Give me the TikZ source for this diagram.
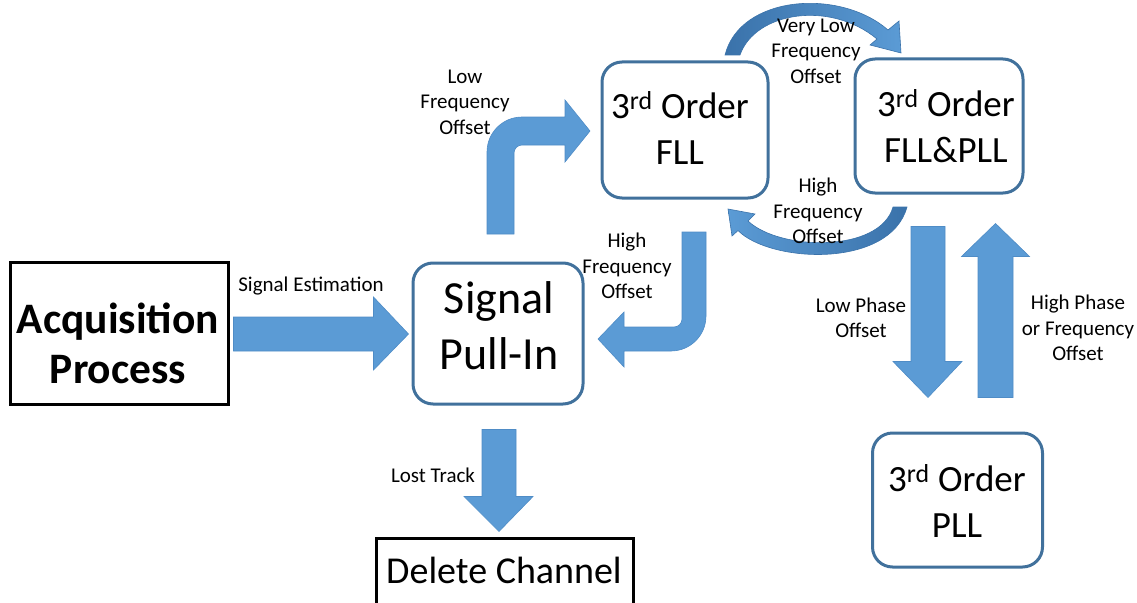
\documentclass[tikz,border=0pt]{standalone}
\usepackage{fontspec}
\setmainfont{Carlito}
\usetikzlibrary{calc}
\definecolor{boxblue}{HTML}{41719C}
\definecolor{arrfill}{HTML}{5B9BD5}
\definecolor{arredge}{HTML}{4F8CC6}
\definecolor{arrdark}{HTML}{3A72AA}
\begin{document}
\begin{tikzpicture}[x=1pt,y=-1pt,
  rbox/.style={draw=boxblue, line width=3pt, rounded corners=20pt, fill=white, inner sep=0pt},
  kbox/.style={draw=black, line width=3pt, fill=white, inner sep=0pt},
  blk/.style={fill=arrfill, draw=arredge, line width=0.6pt, line join=miter},
  lbl/.style={font=\fontsize{21}{25.5}\selectfont, align=center, inner sep=0pt},
  bigtxt/.style={font=\fontsize{37}{46}\selectfont, align=center, inner sep=0pt}]
\useasboundingbox (0,0) rectangle (1137,602);

% boxes
\node[kbox, minimum width=218, minimum height=142] (acq) at (119,333) {};
\node[rbox, minimum width=170, minimum height=141] (pull) at (498,333.5) {};
\node[rbox, minimum width=166, minimum height=136] (fll) at (685,130) {};
\node[rbox, minimum width=168, minimum height=134] (fllpll) at (939,126) {};
\node[rbox, minimum width=170, minimum height=134] (pll) at (957.5,500) {};
\node[kbox, minimum width=257, minimum height=80] (del) at (504.5,578) {};

% box texts
\node[font=\fontsize{43.5}{50}\selectfont\bfseries, align=center, inner sep=0pt] (acq-t) at (118,343) {Acquisition\\Process};
\node[font=\fontsize{46}{56}\selectfont, align=center, inner sep=0pt] (pull-t) at (499,326) {Signal\\Pull-In};
\node[bigtxt] (fll-t) at (680,129) {3\smash{\textsuperscript{rd}} Order\\FLL};
\node[bigtxt] (fllpll-t) at (946,127) {3\smash{\textsuperscript{rd}} Order\\FLL\&PLL};
\node[bigtxt] (pll-t) at (957,502) {3\smash{\textsuperscript{rd}} Order\\PLL};
\node[font=\fontsize{38}{46}\selectfont, inner sep=0pt] (del-t) at (504,570) {Delete Channel};

% straight block arrows
\coordinate (se-s) at ($(acq.east)+(4,1)$);
\coordinate (se-e) at ($(pull.west)+(-3,0.5)$);
\filldraw[blk] ($(se-s)+(0,-17)$) -- ($(se-e)+(-35,-17)$) -- ($(se-e)+(-35,-37)$) -- (se-e)
  -- ($(se-e)+(-35,36)$) -- ($(se-e)+(-35,17)$) -- ($(se-s)+(0,17)$) -- cycle;

\coordinate (lt-s) at ($(pull.south)+(1,24)$);
\coordinate (lt-e) at ($(del.north)+(-5.5,-5)$);
\filldraw[blk] ($(lt-s)+(-17,0)$) -- ($(lt-e)+(-17,-35)$) -- ($(lt-e)+(-35,-35)$) -- (lt-e)
  -- ($(lt-e)+(34,-35)$) -- ($(lt-e)+(17,-35)$) -- ($(lt-s)+(17,0)$) -- cycle;

\coordinate (lp-s) at ($(fllpll.south)+(-11,32)$);
\coordinate (lp-e) at ($(pll.north)+(-29.5,-34)$);
\filldraw[blk] ($(lp-s)+(-17,0)$) -- ($(lp-e)+(-17,-36)$) -- ($(lp-e)+(-35,-36)$) -- (lp-e)
  -- ($(lp-e)+(34,-36)$) -- ($(lp-e)+(17,-36)$) -- ($(lp-s)+(17,0)$) -- cycle;

\coordinate (hp-s) at ($(pll.north)+(38,-34)$);
\coordinate (hp-e) at ($(fllpll.south)+(56.5,29)$);
\filldraw[blk] ($(hp-s)+(-17.5,0)$) -- ($(hp-e)+(-17.5,33)$) -- ($(hp-e)+(-34,33)$) -- (hp-e)
  -- ($(hp-e)+(34,33)$) -- ($(hp-e)+(17.5,33)$) -- ($(hp-s)+(17.5,0)$) -- cycle;

% bent arrow: Signal Pull-In -> FLL
\coordinate (lf-s) at (500.5,234);
\filldraw[blk] (487,234) -- (487,152) .. controls (487,132.7) and (502.7,117) .. (522,117)
  -- (565,117) -- (565,100) -- (590,131) -- (565,162) -- (565,145) -- (522,145)
  .. controls (517.6,145) and (514,148.6) .. (514,153) -- (514,234) -- cycle;

% bent arrow: FLL -> Signal Pull-In
\coordinate (hf-s) at (694,232);
\filldraw[blk] (682,232) -- (706,232) -- (706,316) .. controls (706,335.3) and (690.3,351) .. (671,351)
  -- (624,351) -- (624,367) -- (598,339) -- (624,312) -- (624,327) -- (674,327)
  .. controls (678.4,327) and (682,323.4) .. (682,319) -- cycle;

% curved arrow: FLL -> FLL&PLL (top)
\path[draw=arrdark, line width=0.6pt, left color=arrdark, right color=arrfill]
  (725,55) .. controls (740,-5) and (840,-12) .. (888,30) -- (899,21) -- (901,53) -- (870,45)
  -- (877,39) .. controls (830,0) and (755,12) .. (740,55) -- cycle;

% curved arrow: FLL&PLL -> FLL (bottom)
\path[draw=arrdark, line width=0.6pt, left color=arrfill, right color=arrdark]
  (907,207) .. controls (890,269) and (770,263) .. (738,230.5) -- (732,236) -- (728,209) -- (755,214)
  -- (748,221) .. controls (780,251) and (880,253) .. (893,207) -- cycle;

% labels
\node[lbl] (l-se) at (311,286) {Signal Estimation};
\node[lbl] (l-lf) at (465,102) {Low\\Frequency\\Offset};
\node[lbl] (l-hf1) at (627,266) {High\\Frequency\\Offset};
\node[lbl] (l-vl) at (816,51) {Very Low\\Frequency\\Offset};
\node[lbl] (l-hf2) at (818,211) {High\\Frequency\\Offset};
\node[lbl] (l-lp) at (861,318) {Low Phase\\Offset};
\node[lbl] (l-hp) at (1078,328) {High Phase\\or Frequency\\Offset};
\node[lbl] (l-lt) at (433,475) {Lost Track};
\end{tikzpicture}
\end{document}
